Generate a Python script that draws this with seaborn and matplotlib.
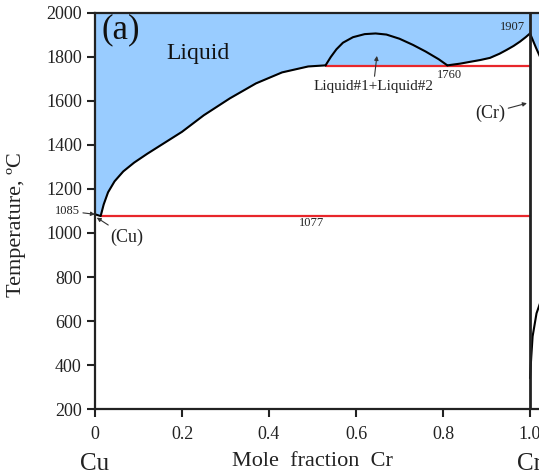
import matplotlib
matplotlib.use("Agg")
import matplotlib.pyplot as plt
import seaborn as sns
import numpy as np

# ---------------- data ----------------
# Cu-side liquidus (mole fraction Cr, temperature in C)
liq_cu_x = [0.0, 0.013, 0.02, 0.03, 0.045, 0.065, 0.09, 0.12, 0.16, 0.20, 0.25, 0.31, 0.37, 0.43, 0.49, 0.53]
liq_cu_T = [1085, 1077, 1130, 1185, 1235, 1280, 1320, 1360, 1410, 1460, 1535, 1612, 1680, 1730, 1757, 1762]
# miscibility gap dome (Liquid#1 + Liquid#2)
dome_x = [0.53, 0.542, 0.555, 0.57, 0.593, 0.62, 0.645, 0.67, 0.70, 0.731, 0.76, 0.79, 0.81]
dome_T = [1762, 1800, 1835, 1865, 1890, 1904, 1907, 1902, 1883, 1855, 1825, 1790, 1762]
# Cr-side liquidus
liq_cr_x = [0.81, 0.84, 0.862, 0.885, 0.908, 0.93, 0.946, 0.962, 0.977, 0.99, 1.0]
liq_cr_T = [1762, 1770, 1778, 1786, 1796, 1815, 1832, 1850, 1870, 1890, 1907]
# neighbouring panel (right of x = 1)
rp_liq_x = [1.0, 1.014, 1.03]
rp_liq_T = [1907, 1841, 1770]
rp_sol_x = [1.0, 1.003, 1.006, 1.015, 1.03]
rp_sol_T = [340, 440, 530, 635, 720]
# invariant lines
mono_T = 1760
eut_T = 1077
melt_cu = 1085
melt_cr = 1907

x_ticks = [0, 0.2, 0.4, 0.6, 0.8, 1.0]
x_ticklabels = ["0", "0.2", "0.4", "0.6", "0.8", "1.0"]
y_ticks = [200, 400, 600, 800, 1000, 1200, 1400, 1600, 1800, 2000]

# ---------------- style ----------------
sns.set_style("ticks")
plt.rcParams['font.family'] = ['Liberation Serif', 'DejaVu Serif']
plt.rcParams['axes.linewidth'] = 1.6
plt.rcParams['axes.edgecolor'] = '#222222'

W, H = 539, 476
fig = plt.figure(figsize=(W / 100, H / 100), dpi=100)
x0_px, x1_px = 95, 530
unit = x1_px - x0_px
xmax = 1.1
ax = fig.add_axes([x0_px / W, 67 / H, xmax * unit / W, 396 / H])
ax.set_xlim(0, xmax)
ax.set_ylim(200, 2000)

blue = '#99ccff'
red = '#e8262b'

# liquid region fill
low_x = np.array(liq_cu_x + liq_cr_x + rp_liq_x[1:])
low_T = np.array(liq_cu_T + liq_cr_T + rp_liq_T[1:])
ax.fill_between(low_x, low_T, 2000, color=blue, lw=0, zorder=0)

# invariant (red) lines
sns.lineplot(x=[liq_cu_x[1], 1.0], y=[eut_T, eut_T], color=red, lw=1.6, ax=ax, estimator=None, sort=False)
sns.lineplot(x=[dome_x[0], 1.0], y=[mono_T, mono_T], color=red, lw=1.6, ax=ax, estimator=None, sort=False)

# phase boundaries
for xs, ts in [(liq_cu_x, liq_cu_T), (dome_x, dome_T), (liq_cr_x, liq_cr_T),
               (rp_liq_x, rp_liq_T), (rp_sol_x, rp_sol_T)]:
    sns.lineplot(x=xs, y=ts, color='black', lw=1.5, ax=ax, estimator=None, sort=False)
sns.lineplot(x=[1.0, 1.0], y=[200, 2000], color='#222222', lw=2.0, ax=ax, estimator=None, sort=False)

# ticks
ax.set_xticks(x_ticks)
ax.set_xticklabels(x_ticklabels)
ax.set_yticks(y_ticks)
ax.tick_params(axis='both', direction='out', length=6, width=1.5, labelsize=13,
               colors='#222222')
ax.tick_params(axis='x', pad=6)
ax.set_xlabel('')
ax.set_ylabel('')
for s in ['top', 'right', 'left', 'bottom']:
    ax.spines[s].set_visible(True)

# texts
ax.text(0.014, 1925, '(a)', fontsize=25, ha='left', va='center', color='#111111')
ax.text(0.163, 1818, 'Liquid', fontsize=17, ha='left', va='center', color='#111111')
ax.text(0.497, 1045, str(eut_T), fontsize=9, ha='center', va='center', color='#222222')
ax.text(0.814, 1718, str(mono_T), fontsize=9, ha='center', va='center', color='#222222')
ax.text(0.959, 1936, str(melt_cr), fontsize=9, ha='center', va='center', color='#222222')

arrow = dict(arrowstyle='-|>', color='#333333', lw=0.8, mutation_scale=6,
             shrinkA=0, shrinkB=0)
ax.annotate('Liquid#1+Liquid#2', xy=(0.648, 1805), xytext=(0.64, 1668),
            fontsize=11, ha='center', va='center', color='#222222',
            arrowprops=arrow)
ax.annotate('(Cr)', xy=(0.993, 1590), xytext=(0.908, 1545),
            fontsize=13, ha='center', va='center', color='#222222',
            arrowprops=arrow)
ax.annotate('(Cu)', xy=(0.004, 1070), xytext=(0.073, 982),
            fontsize=13, ha='center', va='center', color='#222222',
            arrowprops=arrow)
ax.annotate(str(melt_cu), xy=(0.0, melt_cu), xytext=(-0.064, 1100),
            fontsize=9, ha='center', va='center', color='#222222',
            arrowprops=arrow, annotation_clip=False)

# axis labels
fig.text(17 / W, 1 - 225 / H, 'Temperature, ºC', rotation=90, fontsize=16,
         ha='center', va='center', color='#222222')
ax.text(0.5, -0.144, 'Mole  fraction  Cr', transform=ax.get_xaxis_transform(),
        fontsize=16, ha='center', va='baseline', color='#222222')
ax.text(0.0, -0.154, 'Cu', transform=ax.get_xaxis_transform(),
        fontsize=18, ha='center', va='baseline', color='#222222', clip_on=False)
ax.text(1.0, -0.154, 'Cr', transform=ax.get_xaxis_transform(),
        fontsize=18, ha='center', va='baseline', color='#222222', clip_on=False)

fig.savefig('out.png', dpi=100)
